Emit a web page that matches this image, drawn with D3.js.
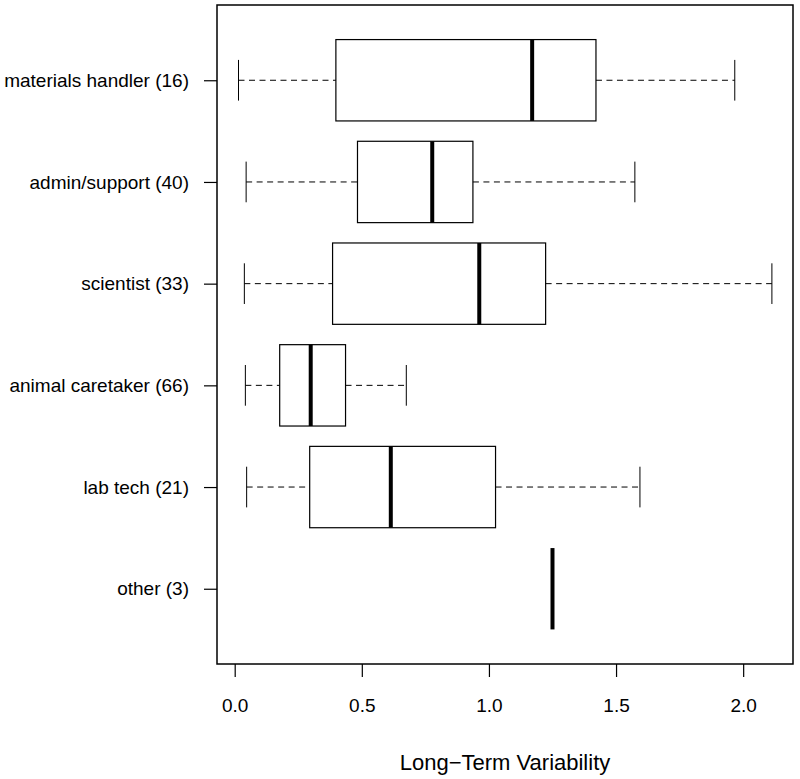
<!DOCTYPE html>
<html>
<head>
<meta charset="utf-8">
<script src="https://cdn.jsdelivr.net/npm/d3@7"></script>
<style>
  html, body { margin: 0; padding: 0; background: #fff; }
  text { font-family: "Liberation Sans", Arial, Helvetica, sans-serif; fill: #000; }
</style>
</head>
<body>
<svg id="chart" width="800" height="779"></svg>
<script>
// ---- data (top to bottom as displayed) ----
const categories = ["materials handler (16)", "admin/support (40)", "scientist (33)",
                    "animal caretaker (66)", "lab tech (21)", "other (3)"];
const lowerWhisker = [0.015, 0.045, 0.038, 0.042, 0.047, 1.25];
const q1           = [0.398, 0.483, 0.385, 0.177, 0.295, 1.25];
const median       = [1.170, 0.777, 0.962, 0.299, 0.614, 1.25];
const q3           = [1.421, 0.937, 1.223, 0.436, 1.026, 1.25];
const upperWhisker = [1.967, 1.574, 2.113, 0.675, 1.594, 1.25];
const xTicks = [0, 0.5, 1.0, 1.5, 2.0];
const xTickLabels = ["0.0", "0.5", "1.0", "1.5", "2.0"];
const xLabel = "Long\u2212Term Variability";

// ---- layout ----
const plotLeft = 217, plotRight = 793, plotTop = 5, plotBottom = 664;
const svg = d3.select("#chart");

const x = d3.scaleLinear().domain([-0.0696, 2.196]).range([plotLeft, plotRight]);
const n = categories.length;
// R style positions: 1 (bottom) .. n (top), ylim = [0.5, n+0.5] expanded 4%
const yPos = d3.scaleLinear().domain([0.26, n + 0.74]).range([plotBottom, plotTop]);
const posOf = i => n - i;  // top item gets position n
const boxHalf = (yPos(0) - yPos(0.4));
const stapleHalf = boxHalf / 2;

const data = categories.map((c, i) => ({
  c, lw: lowerWhisker[i], q1: q1[i], med: median[i], q3: q3[i], uw: upperWhisker[i], y: yPos(posOf(i))
}));

const g = svg.append("g");

data.forEach(d => {
  const grp = g.append("g");
  grp.append("line")
    .attr("x1", x(d.lw)).attr("x2", x(d.q1)).attr("y1", d.y).attr("y2", d.y)
    .attr("stroke", "#000").attr("stroke-width", 1).attr("stroke-dasharray", "6,4.5");
  grp.append("line")
    .attr("x1", x(d.q3)).attr("x2", x(d.uw)).attr("y1", d.y).attr("y2", d.y)
    .attr("stroke", "#000").attr("stroke-width", 1).attr("stroke-dasharray", "6,4.5");
  if (d.uw > d.lw) {
    [d.lw, d.uw].forEach(v => {
      grp.append("line")
        .attr("x1", x(v)).attr("x2", x(v)).attr("y1", d.y - stapleHalf).attr("y2", d.y + stapleHalf)
        .attr("stroke", "#000").attr("stroke-width", 1);
    });
  }
  if (d.q3 > d.q1) {
    grp.append("rect")
      .attr("x", x(d.q1)).attr("y", d.y - boxHalf)
      .attr("width", x(d.q3) - x(d.q1)).attr("height", 2 * boxHalf)
      .attr("fill", "none").attr("stroke", "#000").attr("stroke-width", 1.2);
  }
  grp.append("line")
    .attr("x1", x(d.med)).attr("x2", x(d.med)).attr("y1", d.y - boxHalf).attr("y2", d.y + boxHalf)
    .attr("stroke", "#000").attr("stroke-width", 4);
});

// frame
svg.append("rect")
  .attr("x", plotLeft).attr("y", plotTop).attr("width", plotRight - plotLeft).attr("height", plotBottom - plotTop)
  .attr("fill", "none").attr("stroke", "#000").attr("stroke-width", 1.5);

// x axis
const xAxis = d3.axisBottom(x).tickValues(xTicks)
  .tickFormat((d, i) => xTickLabels[i]).tickSize(13).tickPadding(22);
const xa = svg.append("g").attr("transform", `translate(0,${plotBottom})`).call(xAxis);
xa.select(".domain").remove();
xa.selectAll(".tick line").attr("stroke", "#000").attr("stroke-width", 1.2);
xa.selectAll(".tick text").attr("font-size", 19).attr("font-family", null);

// y axis
const yAxis = d3.axisLeft(yPos).tickValues(data.map((d, i) => posOf(i)))
  .tickFormat((d) => categories[n - d]).tickSize(13).tickPadding(15);
const ya = svg.append("g").attr("transform", `translate(${plotLeft},0)`).call(yAxis);
ya.select(".domain").remove();
ya.selectAll(".tick line").attr("stroke", "#000").attr("stroke-width", 1.2);
ya.selectAll(".tick text").attr("font-size", 19).attr("font-family", null);

// x label
svg.append("text")
  .attr("x", (plotLeft + plotRight) / 2).attr("y", 770)
  .attr("text-anchor", "middle").attr("font-size", 22)
  .text(xLabel);
</script>
</body>
</html>
